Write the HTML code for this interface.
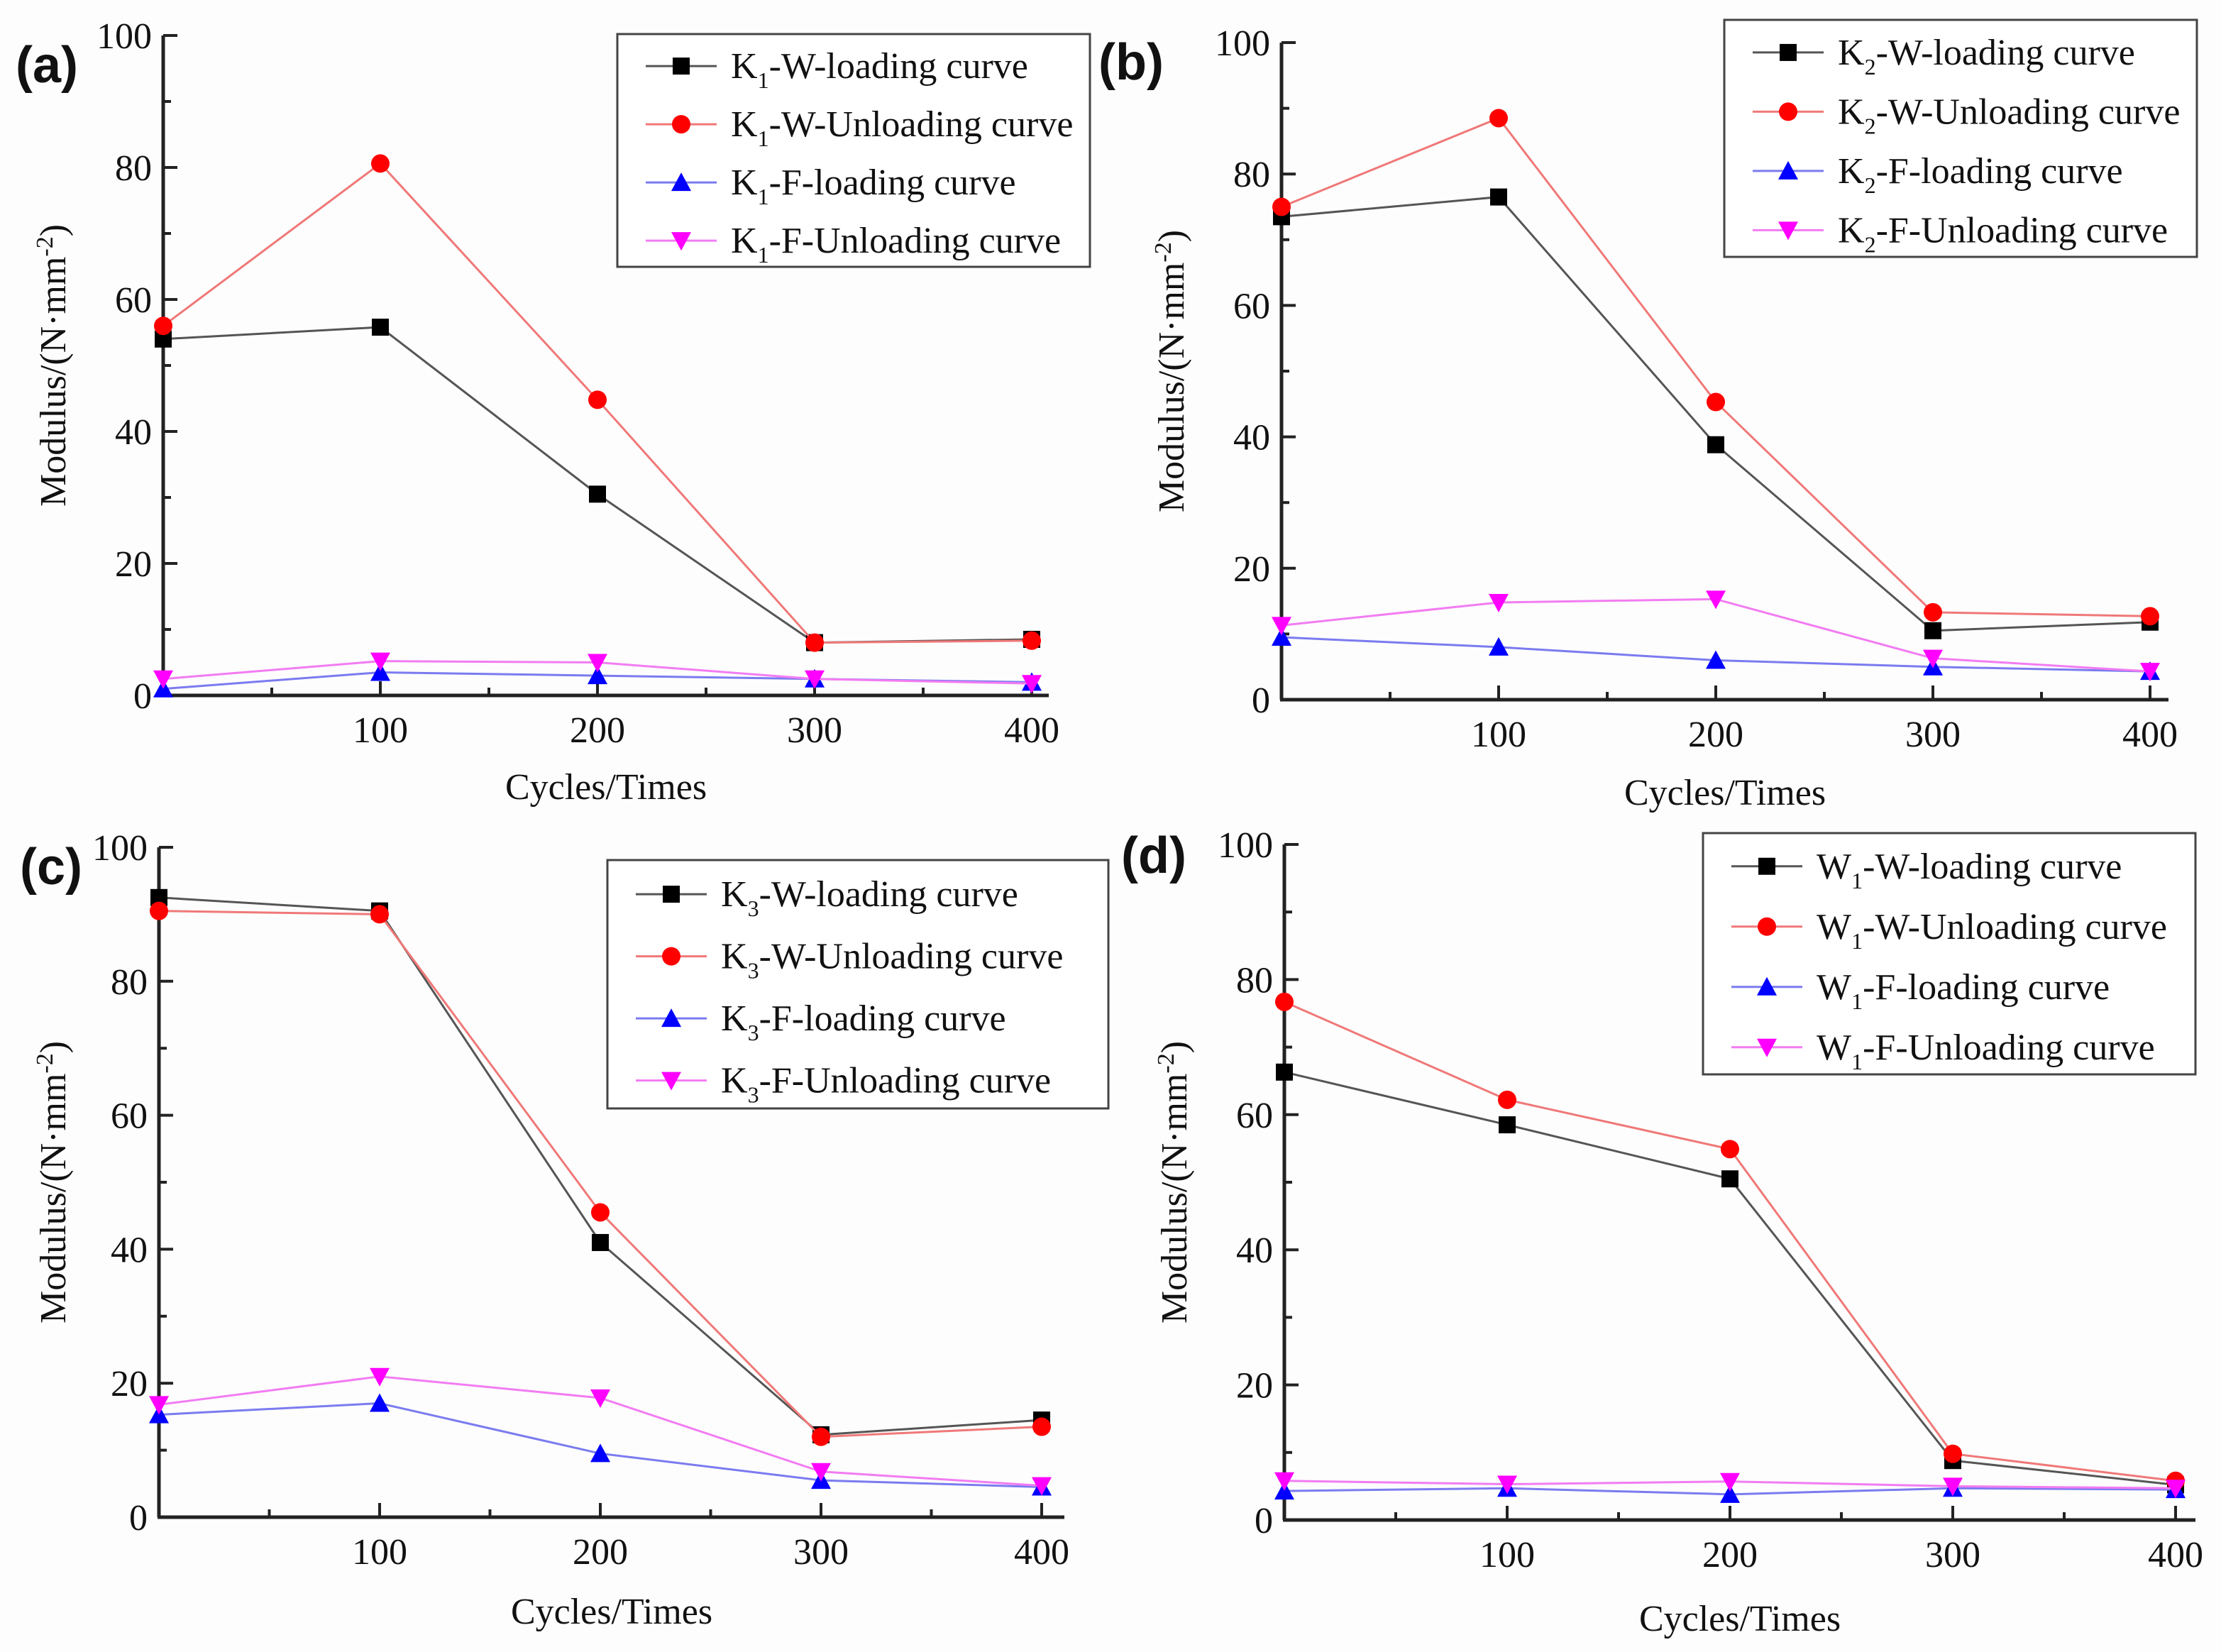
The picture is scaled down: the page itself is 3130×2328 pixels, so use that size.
<!DOCTYPE html>
<html><head><meta charset="utf-8">
<style>
html,body{margin:0;padding:0;background:#fff;}
svg{display:block;}
text{font-family:"Liberation Serif",serif;fill:#111;}
</style></head>
<body>
<svg id="fig" width="3130" height="2328" viewBox="0 0 3130 2328" xmlns="http://www.w3.org/2000/svg">
<rect x="0" y="0" width="3130" height="2328" fill="#fdfdfd"/>
</svg>
<script>
// ---- data ----
const cycles = [0, 100, 200, 300, 400];
const xTicks = [100, 200, 300, 400];
const yTicks = [0, 20, 40, 60, 80, 100];
const seriesSuffix = ["-W-loading curve", "-W-Unloading curve", "-F-loading curve", "-F-Unloading curve"];

const aWLoad   = [54, 55.8, 30.5, 8, 8.5];
const aWUnload = [56, 80.6, 44.8, 8, 8.3];
const aFLoad   = [1, 3.5, 3, 2.5, 2];
const aFUnload = [2.5, 5.2, 5, 2.5, 1.8];

const bWLoad   = [73.5, 76.5, 38.8, 10.5, 11.8];
const bWUnload = [75, 88.5, 45.3, 13.3, 12.7];
const bFLoad   = [9.5, 8, 6, 5, 4.3];
const bFUnload = [11.3, 14.8, 15.3, 6.3, 4.3];

const cWLoad   = [92.5, 90.5, 41, 12.3, 14.5];
const cWUnload = [90.5, 90, 45.5, 12, 13.5];
const cFLoad   = [15.3, 17, 9.5, 5.5, 4.5];
const cFUnload = [16.8, 21, 17.8, 6.8, 4.7];

const dWLoad   = [66.3, 58.5, 50.5, 8.8, 5.2];
const dWUnload = [76.7, 62.2, 54.9, 9.8, 5.8];
const dFLoad   = [4.3, 4.7, 3.8, 4.7, 4.5];
const dFUnload = [5.8, 5.3, 5.7, 5.0, 4.7];

const NS = "http://www.w3.org/2000/svg";
const svg = document.getElementById("fig");
function mk(tag, attrs, parent, txt){
  const e = document.createElementNS(NS, tag);
  for (const k in attrs) e.setAttribute(k, attrs[k]);
  if (txt !== undefined) e.textContent = txt;
  (parent || svg).appendChild(e);
  return e;
}
const styles = [
  {line:"#555", fill:"#000", m:"square"},
  {line:"#f07878", fill:"#f00", m:"circle"},
  {line:"#7b7bf0", fill:"#0000ff", m:"up"},
  {line:"#f27cf2", fill:"#ff00ff", m:"down"}
];
function marker(g, type, x, y, fill){
  const s = 12;
  let e;
  if (type === "square") e = mk("rect", {x:x-s, y:y-s, width:2*s, height:2*s, fill:fill}, g);
  else if (type === "circle") e = mk("circle", {cx:x, cy:y, r:s+1, fill:fill}, g);
  else if (type === "up") e = mk("polygon", {points:`${x},${y-s-2} ${x+s+2},${y+s} ${x-s-2},${y+s}`, fill:fill}, g);
  else e = mk("polygon", {points:`${x},${y+s+2} ${x+s+2},${y-s} ${x-s-2},${y-s}`, fill:fill}, g);
  return e;
}

const panels = [
  {id:"a", prefix:"K", sub:"1", x0:230, per100:306, axisEnd:1478, y0:980, y100:50, labelX:22, labelY:116, ylabX:92, xlabY:1126,
   leg:{x:870, y:48, w:666, h:328}, series:[aWLoad, aWUnload, aFLoad, aFUnload]},
  {id:"b", prefix:"K", sub:"2", x0:1806, per100:306, axisEnd:3056, y0:986, y100:60, labelX:1548, labelY:112, ylabX:1668, xlabY:1134,
   leg:{x:2430, y:28, w:666, h:334}, series:[bWLoad, bWUnload, bFLoad, bFUnload]},
  {id:"c", prefix:"K", sub:"3", x0:224, per100:311, axisEnd:1500, y0:2138, y100:1194, labelX:28, labelY:1246, ylabX:92, xlabY:2288,
   leg:{x:856, y:1212, w:706, h:350}, series:[cWLoad, cWUnload, cFLoad, cFUnload]},
  {id:"d", prefix:"W", sub:"1", x0:1810, per100:314, axisEnd:3094, y0:2142, y100:1190, labelX:1580, labelY:1230, ylabX:1672, xlabY:2298,
   leg:{x:2400, y:1174, w:694, h:340}, series:[dWLoad, dWUnload, dFLoad, dFUnload]}
];

panels.forEach(p => {
  const g = mk("g", {});
  
  
  const X = v => p.x0 + v / 100 * p.per100;
  const Y = v => p.y0 - v / 100 * (p.y0 - p.y100);

  const lab = mk("text", {x:p.labelX, y:p.labelY, "font-size":72, "font-weight":"bold", style:"font-family:'Liberation Sans',sans-serif"}, g, "(" + p.id + ")");
  
  

  const ax = mk("g", {stroke:"#222", "stroke-width":5, fill:"none"}, g);
  
  
  mk("line", {x1:p.x0, y1:p.y0, x2:p.x0, y2:p.y100}, ax);
  mk("line", {x1:p.x0-2, y1:p.y0, x2:p.axisEnd, y2:p.y0}, ax);
  for (let v = 10; v <= 100; v += 10) {
    const len = v % 20 === 0 ? 20 : 11;
    mk("line", {x1:p.x0, y1:Y(v), x2:p.x0+len, y2:Y(v), "stroke-width":4}, ax);
  }
  for (let v = 50; v <= 400; v += 50) {
    const len = v % 100 === 0 ? 20 : 11;
    mk("line", {x1:X(v), y1:p.y0, x2:X(v), y2:p.y0-len, "stroke-width":4}, ax);
  }
  yTicks.forEach(v => {
    const t = mk("text", {x:p.x0-16, y:Y(v)+18, "font-size":52, "text-anchor":"end"}, g, String(v));
    
    
  });
  xTicks.forEach(v => {
    const t = mk("text", {x:X(v), y:p.y0+66, "font-size":52, "text-anchor":"middle"}, g, String(v));
    
    
  });
  const xl = mk("text", {x:(p.x0+p.axisEnd)/2, y:p.xlabY, "font-size":52, "text-anchor":"middle"}, g, "Cycles/Times");
  
  
  const ym = (p.y0 + p.y100) / 2;
  const yl = mk("text", {x:p.ylabX, y:ym, "font-size":52, "text-anchor":"middle", transform:`rotate(-90 ${p.ylabX} ${ym})`}, g);
  
  
  mk("tspan", {}, yl, "Modulus/(N·mm");
  mk("tspan", {dy:-18, "font-size":34}, yl, "-2");
  mk("tspan", {dy:18}, yl, ")");

  p.series.forEach((vals, si) => {
    const st = styles[si];
    const sg = mk("g", {}, g);
    
    
    const pts = vals.map((v, i) => X(cycles[i]) + "," + Y(v)).join(" ");
    mk("polyline", {points:pts, fill:"none", stroke:st.line, "stroke-width":3}, sg);
    vals.forEach((v, i) => {
      const m = marker(sg, st.m, X(cycles[i]), Y(v), st.fill);
      
      
    });
  });

  const L = p.leg;
  const lg = mk("g", {}, g);
  
  
  mk("rect", {x:L.x, y:L.y, width:L.w, height:L.h, fill:"#fff", stroke:"#444", "stroke-width":3}, lg);
  const rowH = L.h / 4;
  styles.forEach((st, i) => {
    const cy = L.y + rowH * (i + 0.55);
    const eg = mk("g", {}, lg);
    
    
    mk("line", {x1:L.x+40, y1:cy, x2:L.x+140, y2:cy, stroke:st.line, "stroke-width":3}, eg);
    marker(eg, st.m, L.x+90, cy, st.fill);
    const t = mk("text", {x:L.x+160, y:cy+17, "font-size":52}, eg);
    mk("tspan", {}, t, p.prefix);
    mk("tspan", {dy:14, "font-size":32}, t, p.sub);
    mk("tspan", {dy:-14}, t, seriesSuffix[i]);
  });
});
</script>
</body></html>
